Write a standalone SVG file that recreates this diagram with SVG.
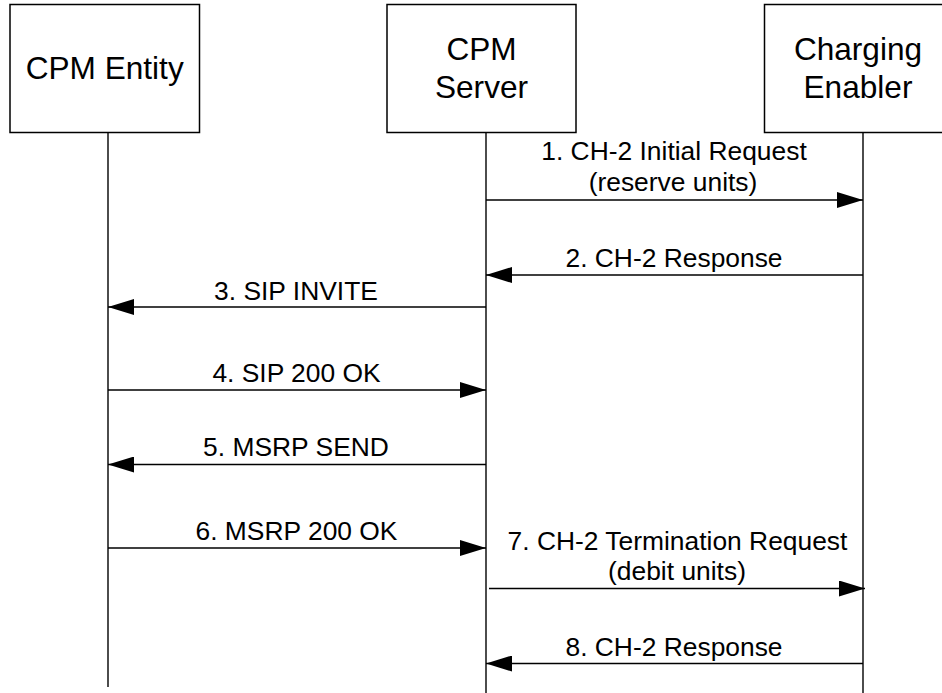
<svg xmlns="http://www.w3.org/2000/svg" width="942" height="693" viewBox="0 0 942 693">
<style>
  .box { fill: #ffffff; stroke: #000000; stroke-width: 1.5; }
  .life { stroke: #000000; stroke-width: 1.4; fill: none; }
  .msg { stroke: #000000; stroke-width: 1.4; fill: none; marker-end: url(#ah); }
  .title { font-family: "Liberation Sans", Arial, sans-serif; font-size: 31.6px; fill: #000000; text-anchor: middle; }
  .label { font-family: "Liberation Sans", Arial, sans-serif; font-size: 26.4px; fill: #000000; text-anchor: middle; }
</style>
<defs>
  <marker id="ah" markerWidth="26" markerHeight="16" refX="26" refY="8" orient="auto" markerUnits="userSpaceOnUse">
    <path d="M0,0 L26,8 L0,16 Z" fill="#000000"/>
  </marker>
</defs>
<rect width="942" height="693" fill="#ffffff"/>
<g id="cpm-entity">
  <rect class="box" x="10" y="4.5" width="189.5" height="128"/>
  <text class="title" x="104.7" y="79">CPM Entity</text>
  <line class="life" x1="108" y1="132.5" x2="108" y2="687"/>
</g>
<g id="cpm-server">
  <rect class="box" x="387" y="4.5" width="189" height="128"/>
  <text class="title" x="481.5" y="60">CPM</text>
  <text class="title" x="481.5" y="98">Server</text>
  <line class="life" x1="486" y1="132.5" x2="486" y2="693"/>
</g>
<g id="charging-enabler">
  <rect class="box" x="764.5" y="4.5" width="190" height="128"/>
  <text class="title" x="858" y="60">Charging</text>
  <text class="title" x="858" y="98">Enabler</text>
  <line class="life" x1="863" y1="132.5" x2="863" y2="693"/>
</g>
<g id="connectors">
  <g id="m1">
    <line class="msg" x1="486" y1="200" x2="863" y2="200"/>
    <text class="label" x="674" y="160">1. CH-2 Initial Request</text>
    <text class="label" x="673" y="191">(reserve units)</text>
  </g>
  <g id="m2">
    <line class="msg" x1="863" y1="275" x2="486" y2="275"/>
    <text class="label" x="674" y="267">2. CH-2 Response</text>
  </g>
  <g id="m3">
    <line class="msg" x1="486" y1="307" x2="108" y2="307"/>
    <text class="label" x="296" y="300">3. SIP INVITE</text>
  </g>
  <g id="m4">
    <line class="msg" x1="108" y1="390" x2="486" y2="390"/>
    <text class="label" x="296.5" y="382">4. SIP 200 OK</text>
  </g>
  <g id="m5">
    <line class="msg" x1="486" y1="464.5" x2="108" y2="464.5"/>
    <text class="label" x="296" y="456">5. MSRP SEND</text>
  </g>
  <g id="m6">
    <line class="msg" x1="108" y1="548" x2="486" y2="548"/>
    <text class="label" x="296.5" y="539.5">6. MSRP 200 OK</text>
  </g>
  <g id="m7">
    <line class="msg" x1="489" y1="588.5" x2="865" y2="588.5"/>
    <text class="label" x="677.5" y="549.5">7. CH-2 Termination Request</text>
    <text class="label" x="677" y="580">(debit units)</text>
  </g>
  <g id="m8">
    <line class="msg" x1="863" y1="663.5" x2="486" y2="663.5"/>
    <text class="label" x="674" y="656">8. CH-2 Response</text>
  </g>
</g>
</svg>
